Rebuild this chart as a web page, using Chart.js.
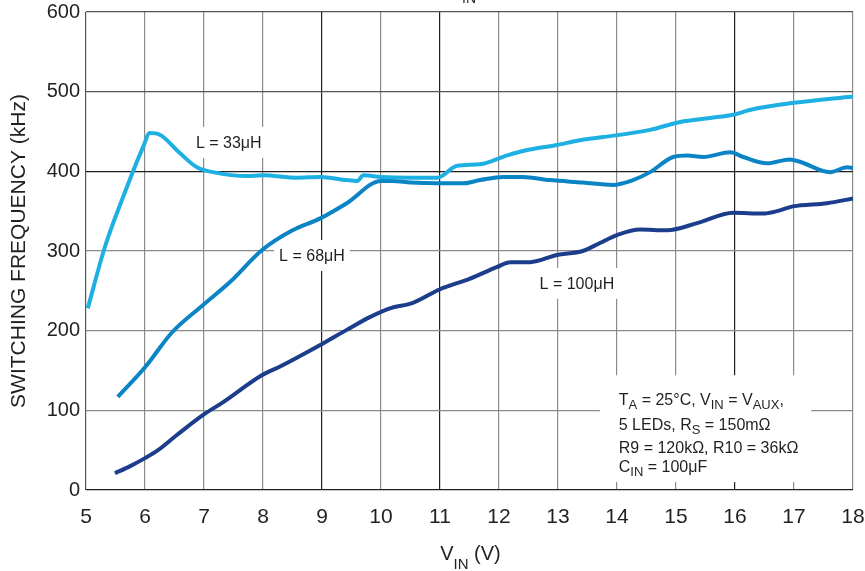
<!DOCTYPE html>
<html><head><meta charset="utf-8">
<script src="https://cdn.jsdelivr.net/npm/chart.js@4.4.0/dist/chart.umd.min.js"></script>
<style>html,body{margin:0;padding:0;background:#fff;}#wrap{width:865px;height:571px;}</style>
</head><body><div id="wrap"><canvas id="c" width="865" height="571"></canvas></div>
<script>
// ---- data ----
const xTickValues = [5,6,7,8,9,10,11,12,13,14,15,16,17,18];
const yTickValues = [0,100,200,300,400,500,600];

const vin33 = [5.03,5.32,5.63,5.97,6.08,6.25,6.59,6.88,7.15,7.73,8.0,8.57,8.97,9.42,9.6,9.7,10.0,10.5,10.95,11.29,11.68,12.14,12.5,12.98,13.37,13.77,14.56,15.07,15.58,15.97,16.25,17.0,18.0];
const f33   = [228,305,368,431,448,446,423,405,399,394,395,392,393,389,388,395,393,392,392,407,409,420,427,433,439,443,452,462,467,471,477,486,494];

const vin68 = [5.54,6.0,6.46,6.98,7.44,7.98,8.5,8.97,9.42,10.0,10.2,10.5,10.95,11.4,11.68,12.07,12.4,12.86,13.42,13.93,14.27,14.56,14.95,15.19,15.46,15.92,16.14,16.54,16.93,17.1,17.61,17.9,18.0];
const f68   = [117,154,198,232,261,301,326,341,360,388,388,386,385,385,389,393,393,389,386,383,389,399,418,420,418,424,418,410,415,412,399,405,404];

const vin100 = [5.49,5.75,6.0,6.22,6.54,6.98,7.32,7.98,8.29,8.97,9.42,9.81,10.15,10.54,11.0,11.5,11.97,12.19,12.53,12.98,13.42,13.71,14.0,14.39,14.85,15.36,15.97,16.47,16.71,16.98,17.56,18.0];
const f100   = [21,30,40,50,69,94,110,144,155,182,201,217,228,235,252,265,280,286,286,295,300,310,320,327,326,335,348,347,350,356,360,366];

const seriesNames = ['L = 100μH','L = 68μH','L = 33μH'];
const curveLabels = ['L = 33μH','L = 68μH','L = 100μH'];
const curveLabelX = [7.42, 8.83, 13.32];
const curveLabelY = [437, 295, 260];

const noteLines = [
  [['T',0],['A',1],[' = 25°C, V',0],['IN',1],[' = V',0],['AUX',1],[',',0]],
  [['5 LEDs, R',0],['S',1],[' = 150mΩ',0]],
  [['R9 = 120kΩ, R10 = 36kΩ',0]],
  [['C',0],['IN',1],[' = 100μF',0]]
];

// ---- styling ----
const FONT = '"Liberation Sans", Arial, Helvetica, sans-serif';
const INK = '#231f20';
const GRAY = '#8a8a8a';
const darkX = [9, 11, 16];
const darkY = [0, 400];

function pts(xs, ys){ return xs.map((v,i)=>({x:v, y:ys[i]})); }

function drawRuns(ctx, runs, x, y, mainSize, subSize, subDrop){
  let cx = x;
  runs.forEach(([t, sub])=>{
    ctx.font = (sub ? subSize : mainSize) + 'px ' + FONT;
    ctx.fillText(t, cx, sub ? y + subDrop : y);
    cx += ctx.measureText(t).width;
  });
  return cx - x;
}
function runsWidth(ctx, runs, mainSize, subSize){
  let w = 0;
  runs.forEach(([t, sub])=>{ ctx.font = (sub ? subSize : mainSize) + 'px ' + FONT; w += ctx.measureText(t).width; });
  return w;
}

const notes = {
  id: 'notes',
  beforeDatasetsDraw(chart){
    const {ctx, scales:{x, y}} = chart;
    ctx.save();
    ctx.textBaseline = 'alphabetic';
    ctx.font = '16px ' + FONT;
    curveLabels.forEach((t,i)=>{
      const px = x.getPixelForValue(curveLabelX[i]);
      const py = y.getPixelForValue(curveLabelY[i]);
      const w = ctx.measureText(t).width + 10;
      ctx.fillStyle = '#fff';
      ctx.fillRect(px - w/2, py - 15, w, 31);
      ctx.fillStyle = INK;
      ctx.textAlign = 'center';
      ctx.fillText(t, px, py + 6);
    });
    const bx0 = x.getPixelForValue(13.71), bx1 = x.getPixelForValue(17.29);
    const by0 = y.getPixelForValue(144), by1 = y.getPixelForValue(10);
    ctx.fillStyle = '#fff';
    ctx.fillRect(bx0, by0, bx1 - bx0, by1 - by0);
    ctx.fillStyle = INK;
    ctx.textAlign = 'left';
    const tx = x.getPixelForValue(14.03);
    const lineVals = [114, 83, 54, 30];
    noteLines.forEach((runs, i)=>{
      const py = y.getPixelForValue(lineVals[i]) + 6;
      drawRuns(ctx, runs, tx, py, 16, 13, 4);
    });
    ctx.restore();
  },
  afterDraw(chart){
    const {ctx, chartArea} = chart;
    ctx.save();
    ctx.fillStyle = INK;
    ctx.textAlign = 'left';
    ctx.textBaseline = 'alphabetic';
    const runs = [['V',0],['IN',1],[' (V)',0]];
    const w = runsWidth(ctx, runs, 20, 15);
    const cx = (chartArea.left + chartArea.right)/2;
    drawRuns(ctx, runs, cx - w/2 + 1, 560, 20, 15, 9);
    ctx.font = '14px ' + FONT;
    ctx.fillText('IN', 462, 3);
    ctx.restore();
  }
};

new Chart(document.getElementById('c'), {
  type: 'line',
  data: {
    datasets: [
      {label: seriesNames[0], data: pts(vin100, f100), borderColor: '#1b3d8c'},
      {label: seriesNames[2], data: pts(vin33, f33), borderColor: '#1eb0e2'},
      {label: seriesNames[1], data: pts(vin68, f68), borderColor: '#0b84c6'}
    ]
  },
  options: {
    responsive: false,
    animation: false,
    devicePixelRatio: 1,
    layout: {padding: {left: 0, top: 12, right: 12, bottom: 0}},
    elements: {
      line: {borderWidth: 4, cubicInterpolationMode: 'monotone', fill: false, borderCapStyle: 'butt'},
      point: {radius: 0, hoverRadius: 0}
    },
    plugins: {legend: {display: false}, tooltip: {enabled: false}},
    scales: {
      x: {
        type: 'linear', min: 5, max: 18,
        afterBuildTicks: s => { s.ticks = xTickValues.map(v => ({value: v})); },
        afterFit: s => { s.height = 81; s.paddingRight = 0; s.paddingLeft = 0; },
        border: {display: false},
        grid: {
          drawTicks: false, lineWidth: 1.2,
          color: c => darkX.includes(c.tick.value) ? INK : (c.tick.value === 5 ? '#555' : GRAY)
        },
        ticks: {color: INK, font: {family: FONT, size: 21}, padding: 15, maxRotation: 0}
      },
      y: {
        type: 'linear', min: 0, max: 600,
        afterBuildTicks: s => { s.ticks = yTickValues.map(v => ({value: v})); },
        afterFit: s => { s.width = 86; s.paddingTop = 0; s.paddingBottom = 0; },
        border: {display: false},
        grid: {
          drawTicks: false, lineWidth: 1.2,
          color: c => darkY.includes(c.tick.value) ? INK : (c.tick.value === 500 || c.tick.value === 600 ? '#555' : GRAY)
        },
        ticks: {color: INK, font: {family: FONT, size: 20}, padding: 6},
        title: {display: true, text: 'SWITCHING FREQUENCY (kHz)', color: INK,
                font: {family: FONT, size: 21}, padding: {top: 7, bottom: 0}}
      }
    }
  },
  plugins: [notes]
});
</script>
</body></html>
